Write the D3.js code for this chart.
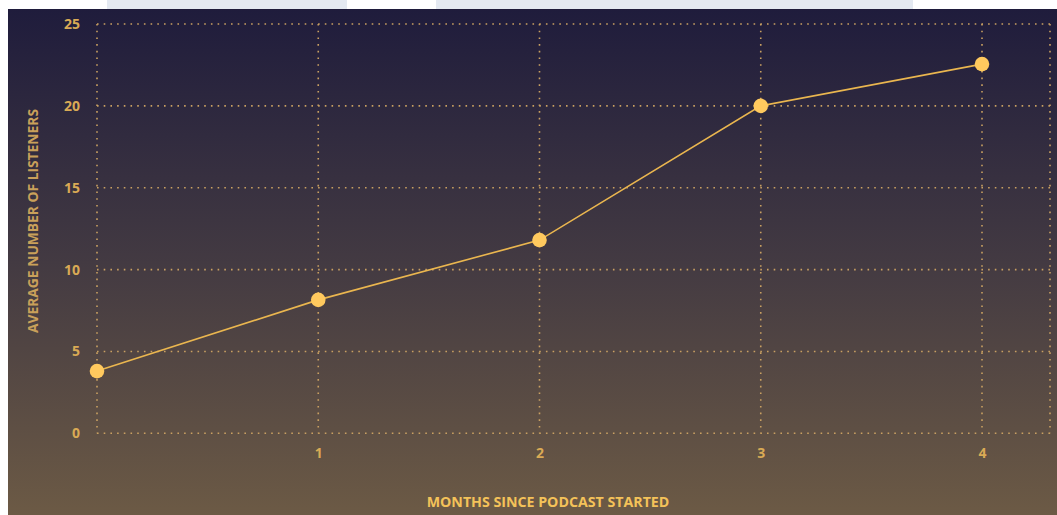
<!DOCTYPE html>
<html><head><meta charset="utf-8">
<script src="https://cdn.jsdelivr.net/npm/d3@7"></script>
<style>
html,body{margin:0;padding:0;background:#fff;overflow:hidden}
svg{display:block}
text{font-family:"Open Sans",Lato,sans-serif;font-weight:700}
</style></head>
<body>
<svg id="c" width="1057" height="515"></svg>
<script>
const months = [0, 1, 2, 3, 4];
const listeners = [3.8, 8.15, 11.8, 20.0, 22.55];
const xTickValues = [1, 2, 3, 4];
const yTickValues = [0, 5, 10, 15, 20, 25];
const xTitle = "MONTHS SINCE PODCAST STARTED";
const yTitle = "AVERAGE NUMBER OF LISTENERS";

(function(){
const svg = d3.select("#c");
const W = 1057, H = 515;
const FONT = "'Open Sans', Lato, sans-serif";
const defs = svg.append("defs");
const g = defs.append("linearGradient").attr("id","bg").attr("x1",0).attr("y1",0).attr("x2",0).attr("y2",1);
g.append("stop").attr("offset","0%").attr("stop-color","#1f1c3c");
g.append("stop").attr("offset","50%").attr("stop-color","#433a42");
g.append("stop").attr("offset","100%").attr("stop-color","#6c5a45");

svg.append("rect").attr("x",107).attr("y",0).attr("width",240).attr("height",9).attr("fill","#e4e9f1");
svg.append("rect").attr("x",436).attr("y",0).attr("width",477).attr("height",9).attr("fill","#e4e9f1");
svg.append("rect").attr("x",8).attr("y",9).attr("width",W-8).attr("height",H-9).attr("fill","url(#bg)");

const pL = 97, pR = 1050, pT = 24, pB = 433.3;
const x = d3.scaleLinear().domain([0, 4]).range([pL, 982]);
const y = d3.scaleLinear().domain([0, 25]).range([pB, pT]);

const gridCol = "#c9a062";
const dash = "1.6,5.1";
svg.append("g").selectAll("line").data(yTickValues).join("line")
  .attr("x1",pL).attr("x2",pR).attr("y1",d=>y(d)).attr("y2",d=>y(d))
  .attr("stroke",gridCol).attr("stroke-width",1.6).attr("stroke-dasharray",dash);
svg.append("g").selectAll("line").data([0].concat(xTickValues)).join("line")
  .attr("x1",d=>x(d)).attr("x2",d=>x(d)).attr("y1",pT).attr("y2",pB)
  .attr("stroke",gridCol).attr("stroke-width",1.6).attr("stroke-dasharray",dash);
svg.append("line").attr("x1",pR).attr("x2",pR).attr("y1",pT).attr("y2",pB)
  .attr("stroke",gridCol).attr("stroke-width",1.6).attr("stroke-dasharray",dash);

const yAxis = d3.axisLeft(y).tickValues(yTickValues).tickFormat(d3.format("d")).tickSize(0).tickPadding(0);
const ya = svg.append("g").attr("transform",`translate(80,0)`).call(yAxis);
ya.select(".domain").remove();
ya.selectAll("text").attr("fill","#d9aa55").attr("font-size",14).attr("font-family",FONT).attr("font-weight",700);

const xAxis = d3.axisBottom(x).tickValues(xTickValues).tickFormat(d3.format("d")).tickSize(0).tickPadding(0);
const xa = svg.append("g").attr("transform",`translate(0,448)`).call(xAxis);
xa.select(".domain").remove();
xa.selectAll("text").attr("fill","#d9aa55").attr("font-size",14).attr("font-family",FONT).attr("font-weight",700);

svg.append("text").attr("x",548).attr("y",507).attr("text-anchor","middle")
  .attr("fill","#f4c259").attr("font-size",14.2).attr("font-family",FONT).text(xTitle);
svg.append("text").attr("transform",`translate(38,221) rotate(-90)`).attr("text-anchor","middle")
  .attr("fill","#c9a05a").attr("font-size",13.8).attr("font-family",FONT).text(yTitle);

const data = months.map((m,i)=>({m, v: listeners[i]}));
svg.append("path").datum(data)
  .attr("d", d3.line().x(d=>x(d.m)).y(d=>y(d.v)))
  .attr("fill","none").attr("stroke","#eab64f").attr("stroke-width",1.6);
svg.append("g").selectAll("circle").data(data).join("circle")
  .attr("cx",d=>x(d.m)).attr("cy",d=>y(d.v)).attr("r",7.3).attr("fill","#ffc95e");
})();
</script>
</body></html>
